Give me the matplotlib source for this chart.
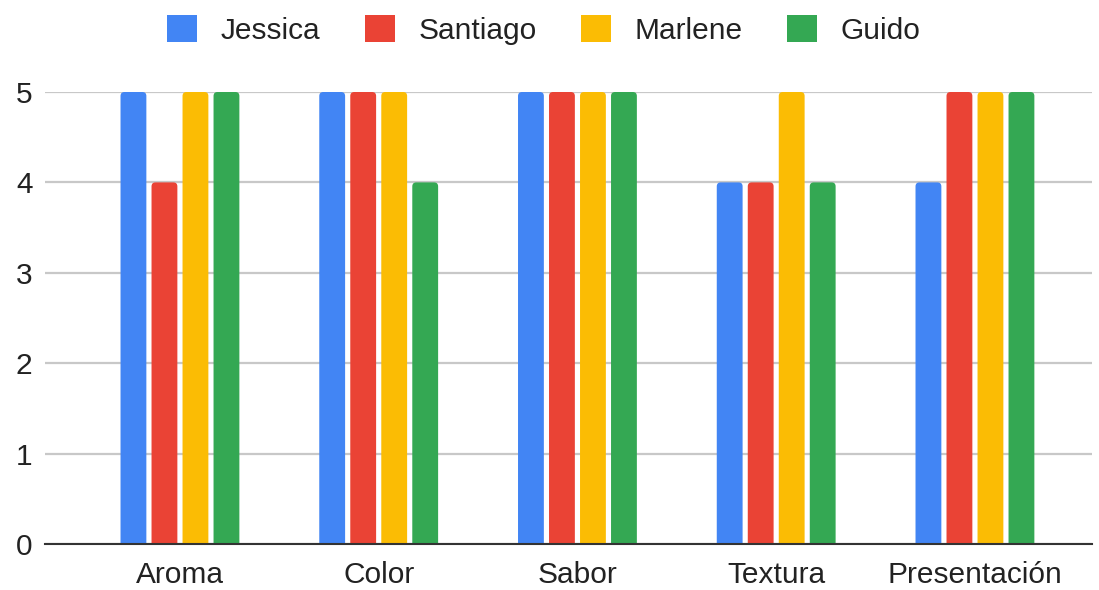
import numpy as np
import matplotlib
matplotlib.use("Agg")
import matplotlib.pyplot as plt
from matplotlib.patches import FancyBboxPatch, Patch

categories = ["Aroma", "Color", "Sabor", "Textura", "Presentación"]
series_names = ["Jessica", "Santiago", "Marlene", "Guido"]
jessica = [5, 5, 5, 4, 4]
santiago = [4, 5, 5, 4, 5]
marlene = [5, 5, 5, 5, 5]
guido = [5, 4, 5, 4, 5]
colors = ["#4285F4", "#EA4335", "#FBBC04", "#34A853"]

plt.rcParams["font.family"] = ["Liberation Sans", "DejaVu Sans"]

fig = plt.figure(figsize=(10.99, 5.9), dpi=100)
ax = fig.add_axes([45 / 1099, 1 - 544 / 590, 1047 / 1099, 452 / 590])

x = np.arange(len(categories))
pitch, width = 0.156, 0.13
for i, (name, vals) in enumerate(zip(series_names, [jessica, santiago, marlene, guido])):
    bars = ax.bar(x + (i - 1.5) * pitch, vals, width, color=colors[i], label=name, zorder=3)
    # swap each rectangle for one with rounded top corners (bottom hidden below the axis)
    for b in bars:
        b.set_visible(False)
        ax.add_patch(FancyBboxPatch((b.get_x(), -0.2), b.get_width(), b.get_height() + 0.2,
                                    boxstyle="round,pad=0,rounding_size=0.02",
                                    mutation_aspect=2.2, fc=colors[i], ec="none", zorder=3))

ax.set_xlim(-0.679, 4.589)
ax.set_ylim(0, 5)
ax.set_yticks(range(6))
ax.set_xticks(x)
ax.set_xticklabels(categories)
ax.tick_params(axis="both", length=0, labelsize=21.5, colors="#222222")
ax.tick_params(axis="y", pad=9)
ax.tick_params(axis="x", pad=12)
ax.grid(axis="y", color="#c8c8c8", lw=1.6, zorder=0)
for s in ["top", "right", "left"]:
    ax.spines[s].set_visible(False)
ax.spines["bottom"].set_color("#333333")
ax.spines["bottom"].set_linewidth(1.5)
ax.spines["bottom"].set_zorder(4)

handles = [Patch(facecolor=c, edgecolor="none") for c in colors]
fig.legend(handles, series_names, loc="center", bbox_to_anchor=(0.495, 1 - 30 / 590), ncol=4,
           frameon=False, fontsize=21.5, handlelength=1.0, handleheight=1.0, handletextpad=0.8,
           columnspacing=1.48, labelcolor="#222222")

fig.savefig("out.png", dpi=100)
